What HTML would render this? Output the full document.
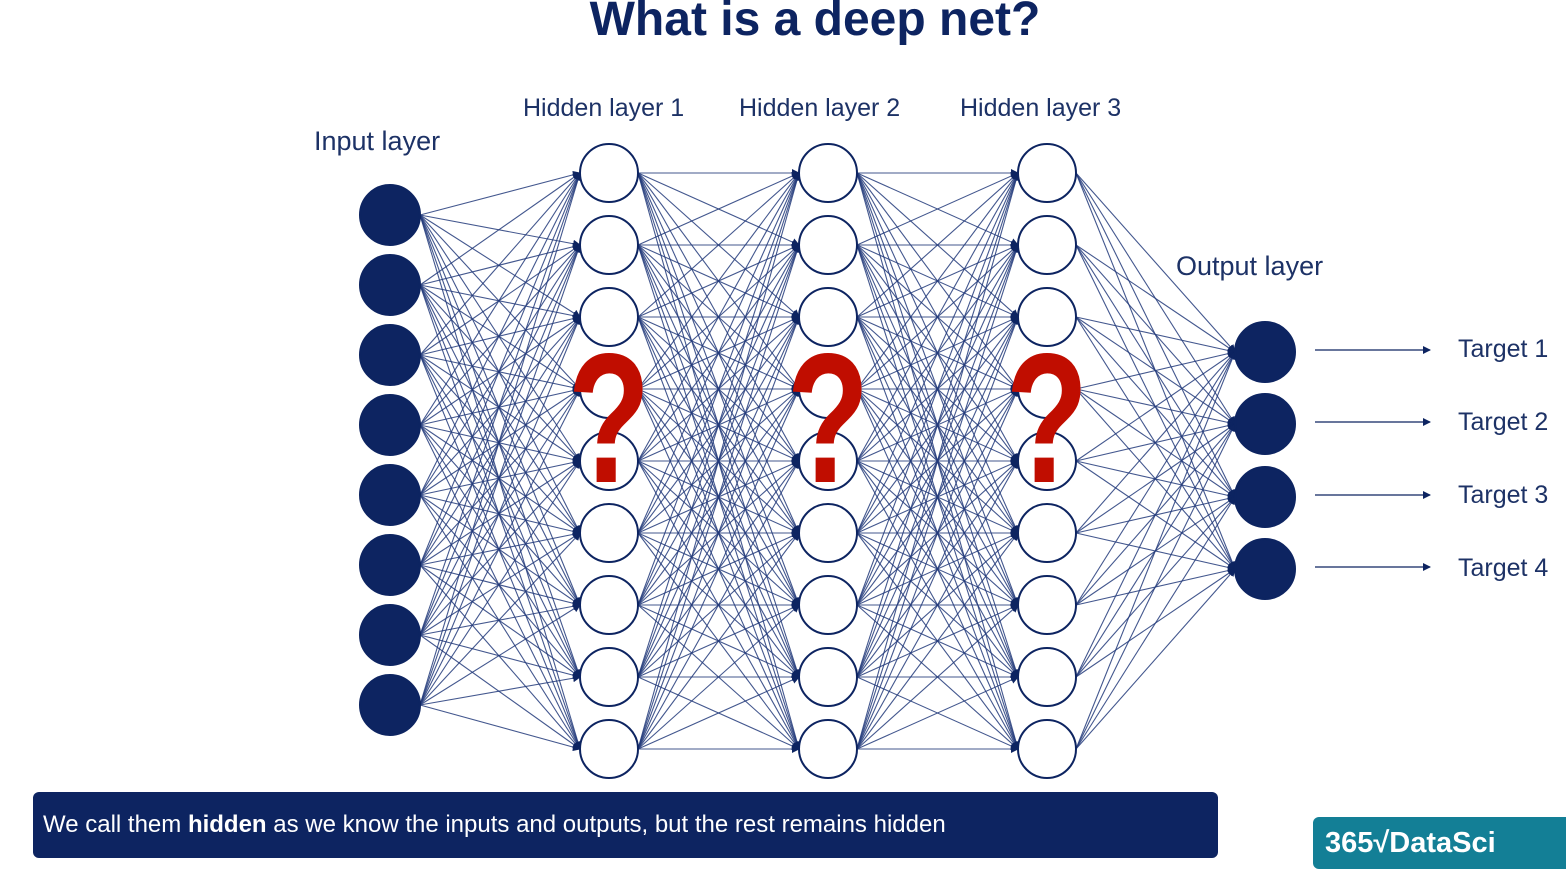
<!DOCTYPE html>
<html><head><meta charset="utf-8"><style>
html,body{margin:0;padding:0;background:#fff;width:1566px;height:866px;overflow:hidden;font-family:"Liberation Sans",sans-serif}
.t{position:absolute;color:#1d3266;font-size:27px;white-space:nowrap}
</style></head><body>
<div style="position:absolute;left:0;top:-8px;width:1630px;text-align:center;font-size:48px;font-weight:bold;color:#0d2461">What is a deep net?</div>
<svg id="s" width="1566" height="866" style="position:absolute;left:0;top:0">
<defs><marker id="a" markerWidth="8" markerHeight="8" refX="7" refY="4" orient="auto" markerUnits="userSpaceOnUse"><path d="M0,0L8,4L0,8z" fill="#0d2461"/></marker></defs>
<g id="g"></g></svg>
<div class="t" style="left:314px;top:126px">Input layer</div>
<div class="t" style="left:523px;top:94px;font-size:25px">Hidden layer 1</div>
<div class="t" style="left:739px;top:94px;font-size:25px">Hidden layer 2</div>
<div class="t" style="left:960px;top:94px;font-size:25px">Hidden layer 3</div>
<div class="t" style="left:1176px;top:251px">Output layer</div>
<div class="t" style="left:1458px;top:335px;font-size:25px">Target 1</div>
<div class="t" style="left:1458px;top:408px;font-size:25px">Target 2</div>
<div class="t" style="left:1458px;top:481px;font-size:25px">Target 3</div>
<div class="t" style="left:1458px;top:554px;font-size:25px">Target 4</div>
<div style="position:absolute;left:33px;top:792px;width:1185px;height:66px;background:#0d2461;border-radius:6px;color:#fff;font-size:24px;line-height:66px;padding-left:10px;box-sizing:border-box">We call them <b>hidden</b> as we know the inputs and outputs, but the rest remains hidden</div>
<div style="position:absolute;left:1313px;top:817px;width:270px;height:52px;background:#137f96;border-radius:6px;color:#fff;font-size:29px;font-weight:bold;line-height:52px;padding-left:12px;box-sizing:border-box;white-space:nowrap">365√DataSci</div>
<script>
var NS="http://www.w3.org/2000/svg",g=document.getElementById('g');
function el(n,a){var e=document.createElementNS(NS,n);for(var k in a)e.setAttribute(k,a[k]);g.appendChild(e);return e;}
var inp=[],h=[],out=[];
for(var i=0;i<8;i++)inp.push(215+70*i);
for(var i=0;i<9;i++)h.push(173+72*i);
out=[352,424,497,569];
var layers=[{x:390,r:30,ys:inp,f:1},{x:609,r:29,ys:h},{x:828,r:29,ys:h},{x:1047,r:29,ys:h},{x:1265,r:30,ys:out,f:1}];
for(var l=0;l<4;l++){var A=layers[l],B=layers[l+1];
A.ys.forEach(function(y1){B.ys.forEach(function(y2){
el('line',{x1:A.x+A.r,y1:y1,x2:B.x-B.r,y2:y2,stroke:'#22397a','stroke-width':1.1,'stroke-opacity':0.85,'marker-end':'url(#a)'});});});}
layers.forEach(function(L){L.ys.forEach(function(y){el('circle',{cx:L.x,cy:y,r:L.r,fill:L.f?'#0d2461':'#fff',stroke:'#0d2461','stroke-width':2});});});
out.forEach(function(y){el('line',{x1:1315,y1:y-2,x2:1430,y2:y-2,stroke:'#0d2461','stroke-width':1.2,'marker-end':'url(#a)'});});
[609,828,1047].forEach(function(x){var t=el('text',{x:0,y:0,'text-anchor':'middle','font-family':'Liberation Sans, sans-serif','font-weight':'bold','font-size':165,fill:'#c00d00',transform:'translate('+x+',482) scale(0.82,1.12)'});t.textContent='?';});
</script>
</body></html>
